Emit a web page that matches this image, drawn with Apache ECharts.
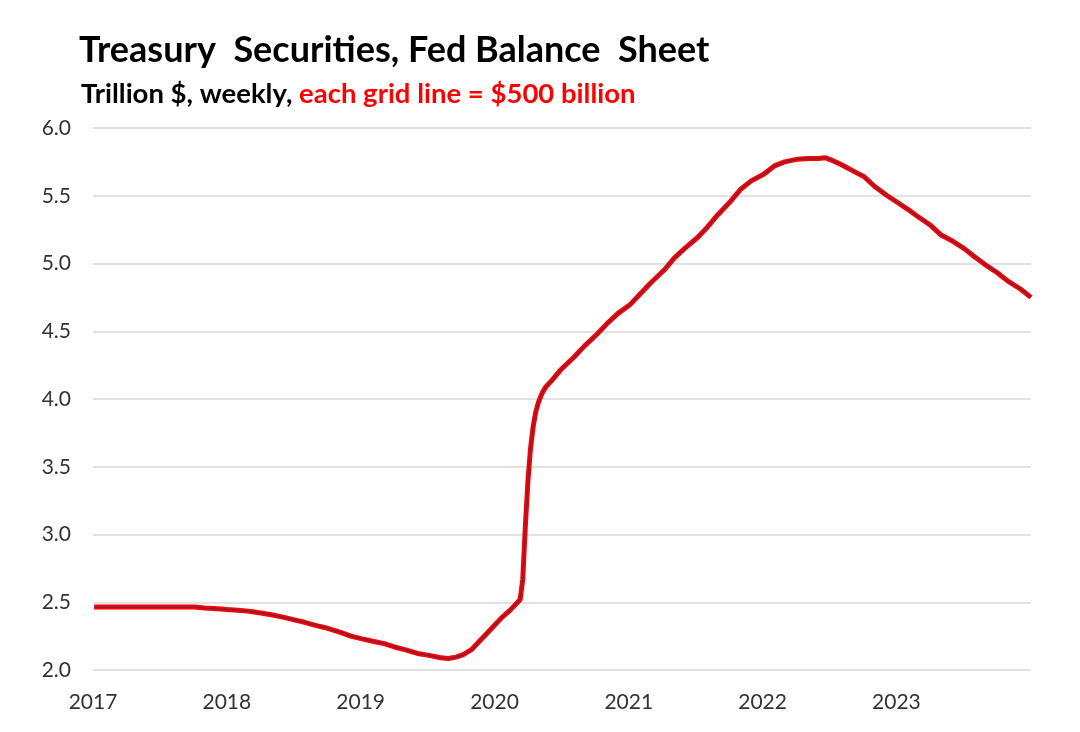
<!DOCTYPE html>
<html>
<head>
<meta charset="utf-8">
<script src="https://cdn.jsdelivr.net/npm/echarts@6/dist/echarts.min.js"></script>
<style>
html,body{margin:0;padding:0;background:#fff;}
#c{width:1080px;height:732px;}
</style>
</head>
<body>
<div id="c"></div>
<script>
// Weekly/monthly readings of Treasury securities held by the Fed (trillion $)
var dates = [
'2017-01-04','2017-02-01','2017-03-01','2017-04-05','2017-05-03','2017-06-07','2017-07-05','2017-08-02','2017-09-06','2017-10-04','2017-11-01','2017-12-06',
'2018-01-03','2018-02-07','2018-03-07','2018-04-04','2018-05-02','2018-06-06','2018-07-04','2018-08-01','2018-09-05','2018-10-03','2018-11-07','2018-12-05',
'2019-01-02','2019-02-06','2019-03-06','2019-04-03','2019-05-01','2019-06-05','2019-07-03','2019-08-07','2019-08-28','2019-09-18','2019-10-09','2019-10-30','2019-11-20','2019-12-11',
'2020-01-01','2020-01-22','2020-02-12','2020-03-04','2020-03-11','2020-03-18','2020-03-25','2020-04-01','2020-04-08','2020-04-15','2020-04-22','2020-04-29','2020-05-06','2020-05-13','2020-05-20','2020-06-03','2020-07-01','2020-08-05','2020-09-02','2020-10-07','2020-11-04','2020-12-02',
'2021-01-06','2021-02-03','2021-03-03','2021-04-07','2021-05-05','2021-06-02','2021-07-07','2021-08-04','2021-09-01','2021-10-06','2021-11-03','2021-12-01',
'2022-01-05','2022-02-02','2022-03-02','2022-04-06','2022-05-04','2022-06-01','2022-06-22','2022-07-06','2022-08-03','2022-09-07','2022-10-05','2022-11-02','2022-12-07',
'2023-01-04','2023-02-01','2023-03-01','2023-04-05','2023-05-03','2023-05-31','2023-07-05','2023-08-02','2023-09-06','2023-10-04','2023-11-01','2023-12-06','2024-01-03'
];
var treasuries = [
2.465,2.465,2.465,2.465,2.465,2.465,2.465,2.465,2.465,2.465,2.458,2.452,
2.446,2.440,2.432,2.420,2.408,2.388,2.370,2.352,2.326,2.308,2.278,2.250,
2.232,2.210,2.195,2.170,2.150,2.122,2.110,2.090,2.085,2.095,2.115,2.150,2.210,2.270,
2.330,2.390,2.440,2.500,2.520,2.670,3.060,3.390,3.630,3.790,3.900,3.970,4.020,4.060,4.090,4.130,4.220,4.310,4.390,4.480,4.560,4.630,
4.700,4.780,4.860,4.950,5.040,5.110,5.190,5.270,5.360,5.460,5.550,5.610,
5.660,5.720,5.750,5.770,5.775,5.775,5.780,5.765,5.730,5.680,5.640,5.570,5.500,
5.450,5.400,5.345,5.280,5.210,5.170,5.110,5.050,4.980,4.930,4.870,4.810,4.750
];
var yTicks = [2.0,2.5,3.0,3.5,4.0,4.5,5.0,5.5,6.0];
var xYears = ['2017','2018','2019','2020','2021','2022','2023'];

var seriesData = dates.map(function(d,i){ return [d, treasuries[i]]; });

var chart = echarts.init(document.getElementById('c'));
var FONT = 'Lato';
chart.setOption({
  animation: false,
  backgroundColor: '#ffffff',
  title: [
    {
      text: 'Treasury  Securities, Fed Balance  Sheet',
      left: 74, top: 27,
      textStyle: {fontFamily: FONT, fontWeight: 'bold', fontSize: 36, color: '#000'}
    },
    {
      text: '{a|Trillion $, weekly, }{b|each grid line = $500 billion}',
      left: 76, top: 75,
      textStyle: {
        rich: {
          a: {fontFamily: FONT, fontWeight: 'bold', fontSize: 27.5, color: '#000'},
          b: {fontFamily: FONT, fontWeight: 'bold', fontSize: 27.5, color: '#ff0000'}
        }
      }
    }
  ],
  grid: {left: 93, right: 49, top: 128, bottom: 62, containLabel: false},
  xAxis: {
    type: 'time',
    min: '2017-01-01',
    max: '2024-01-03',
    minInterval: 365 * 86400000,
    maxInterval: 366 * 86400000,
    axisLine: {show: false},
    axisTick: {show: false},
    splitLine: {show: false},
    axisLabel: {
      fontFamily: FONT, fontSize: 21, color: '#333', margin: 22,
      hideOverlap: false,
      formatter: function(v){
        var y = String(new Date(v).getFullYear());
        return xYears.indexOf(y) >= 0 ? y : '';
      }
    }
  },
  yAxis: {
    type: 'value',
    min: yTicks[0], max: yTicks[yTicks.length-1], interval: 0.5,
    axisLine: {show: false},
    axisTick: {show: false},
    splitLine: {lineStyle: {color: '#d9d9d9', width: 1.5}},
    axisLabel: {
      fontFamily: FONT, fontSize: 21, color: '#333', margin: 22,
      formatter: function(v){ return v.toFixed(1); }
    }
  },
  series: [
    {
      type: 'line', data: seriesData, showSymbol: false, smooth: false,
      lineStyle: {color: '#ff0000', width: 5}, z: 2
    },
    {
      type: 'line', data: seriesData, showSymbol: false, smooth: false,
      lineStyle: {color: '#3b2f63', width: 1.6, opacity: 0.6}, z: 3
    }
  ]
});
</script>
</body>
</html>
